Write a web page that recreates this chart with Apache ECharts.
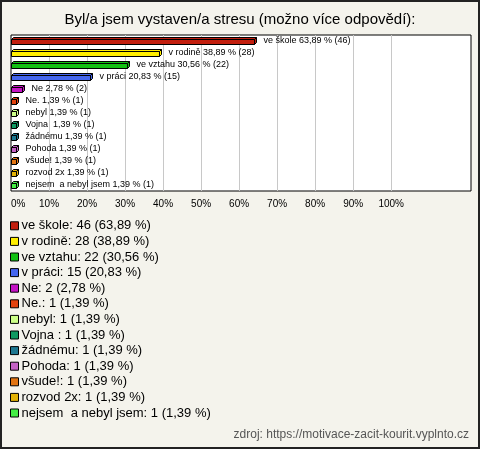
<!DOCTYPE html>
<html>
<head>
<meta charset="utf-8">
<script src="https://cdn.jsdelivr.net/npm/echarts@6/dist/echarts.min.js"></script>
<style>
  html, body { margin: 0; padding: 0; background: #f4f3ec; }
  #chart { width: 480px; height: 449px; }
</style>
</head>
<body>
<div id="chart"></div>
<script>
// odpovedi
var names = ['ve škole', 'v rodině', 've vztahu', 'v práci', 'Ne', 'Ne.', 'nebyl', 'Vojna ', 'žádnému', 'Pohoda', 'všude!', 'rozvod 2x', 'nejsem  a nebyl jsem']
var counts = [46, 28, 22, 15, 2, 1, 1, 1, 1, 1, 1, 1, 1]
var percents = [63.89, 38.89, 30.56, 20.83, 2.78, 1.39, 1.39, 1.39, 1.39, 1.39, 1.39, 1.39, 1.39]
var colors = ['#c21e0e', '#ffee00', '#12c012', '#4466ee', '#c414c4', '#e2420e', '#ccff88', '#109a62', '#1e7890', '#c462c4', '#e27412', '#e2b206', '#44ee44']
var gridTicks = [10, 20, 30, 40, 50, 60, 70, 80, 90, 100]

function fmt (v) {
  return v.toFixed(2).replace('.', ',')
}

function renderBar (params, api) {
  var cat = api.value(1)
  var p0 = api.coord([0, cat])
  var p1 = api.coord([api.value(0), cat])
  var x0 = Math.round(p0[0]) + 0.5
  var x1 = Math.round(p1[0]) + 0.5
  var c = Math.round(p0[1])
  var top = c - 1.5
  var bot = c + 3.5
  var d = 2
  var color = api.visual('color')
  var stroke = { fill: color, stroke: '#000', lineWidth: 1 }
  var i = params.seriesIndex
  return {
    type: 'group',
    children: [
      { type: 'polygon', shape: { points: [[x0, top], [x0 + d, top - d], [x1 + d, top - d], [x1, top]] }, style: stroke },
      { type: 'polygon', shape: { points: [[x1, top], [x1 + d, top - d], [x1 + d, bot - d], [x1, bot]] }, style: stroke },
      { type: 'rect', shape: { x: x0, y: top, width: x1 - x0, height: bot - top }, style: stroke },
      {
        type: 'text',
        x: x1 + 9,
        y: c - 0.5,
        style: {
          text: names[i] + ' ' + fmt(percents[i]) + ' % (' + counts[i] + ')',
          fill: '#000',
          font: '9px "Liberation Sans", Arial, sans-serif',
          verticalAlign: 'middle'
        }
      }
    ]
  }
}

var series = names.map(function (n, i) {
  return {
    name: n,
    type: 'custom',
    renderItem: renderBar,
    itemStyle: { color: colors[i], borderColor: '#000', borderWidth: 1 },
    encode: { x: 0, y: 1 },
    data: [[percents[i], i]],
    silent: true,
    markLine: i === 0 ? {
      silent: true,
      symbol: 'none',
      label: { show: false },
      lineStyle: { color: '#c8c8c8', type: 'solid', width: 1 },
      data: gridTicks.map(function (t) { return { xAxis: t } }),
      z: 1
    } : undefined,
    z: 3
  }
})

var chart = echarts.init(document.getElementById('chart'))
chart.setOption({
  backgroundColor: '#f4f3ec',
  animation: false,
  title: [{
    text: 'Byl/a jsem vystaven/a stresu (možno více odpovědí):',
    left: 'center',
    top: 12,
    padding: 0,
    textStyle: { fontFamily: '"Liberation Sans", Arial, sans-serif', fontSize: 15, fontWeight: 'normal', color: '#000' }
  }, {
    text: 'zdroj: https://motivace-zacit-kourit.vyplnto.cz',
    right: 11,
    top: 429,
    padding: 0,
    textStyle: { fontFamily: '"Liberation Sans", Arial, sans-serif', fontSize: 12, fontWeight: 'normal', color: '#555' }
  }],
  grid: {
    left: 11,
    top: 35,
    width: 460,
    height: 156,
    show: true,
    backgroundColor: '#fff',
    borderColor: '#000',
    borderWidth: 1,
    containLabel: false
  },
  xAxis: {
    type: 'value',
    min: 0,
    max: 121,
    interval: 10,
    axisLine: { show: false },
    axisTick: { show: false },
    splitLine: { show: false },
    axisLabel: {
      margin: 8,
      alignMinLabel: 'left',
      fontFamily: '"Liberation Sans", Arial, sans-serif',
      fontSize: 10,
      color: '#000',
      formatter: function (v) { return v > 100 ? '' : v + '%' }
    }
  },
  yAxis: {
    type: 'category',
    inverse: true,
    data: names,
    axisLine: { show: false },
    axisTick: { show: false },
    axisLabel: { show: false },
    splitLine: { show: false }
  },
  legend: {
    orient: 'vertical',
    left: 10,
    top: 218,
    padding: 0,
    itemGap: 0,
    itemWidth: 8,
    itemHeight: 8,
    icon: 'rect',
    selectedMode: false,
    itemStyle: { borderColor: '#000', borderWidth: 1 },
    textStyle: {
      fontFamily: '"Liberation Sans", Arial, sans-serif',
      fontSize: 13,
      color: '#000',
      lineHeight: 15.6,
      padding: [0, 0, 0, -2]
    },
    formatter: function (n) {
      var i = names.indexOf(n)
      return n + ': ' + counts[i] + ' (' + fmt(percents[i]) + ' %)'
    },
    data: names
  },
  graphic: [{
    type: 'rect',
    shape: { x: 1, y: 1, width: 478, height: 447 },
    style: { fill: 'none', stroke: '#222', lineWidth: 2 },
    silent: true,
    z: 100
  }],
  series: series
})
</script>
</body>
</html>
